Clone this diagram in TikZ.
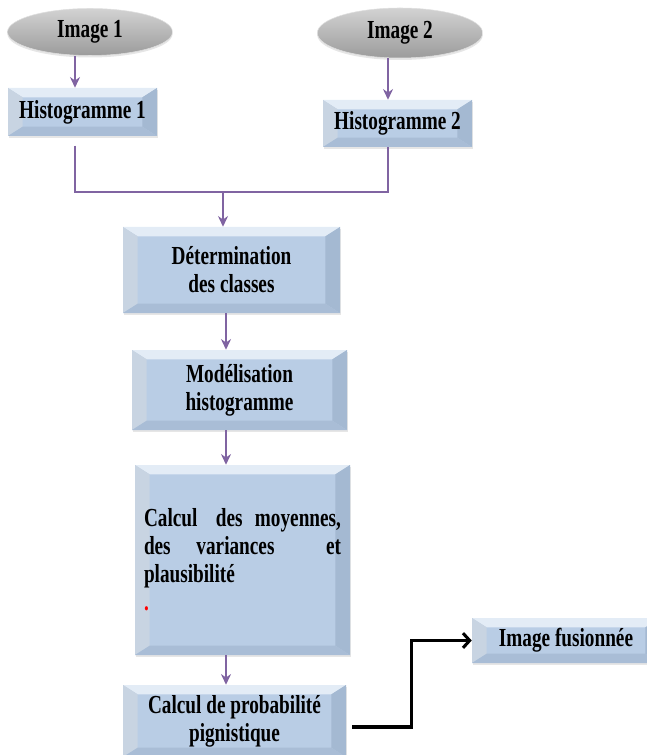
\documentclass[tikz,border=0pt]{standalone}
\usepackage{fontspec}
\setmainfont{Liberation Serif}[FakeStretch=0.74]
\usetikzlibrary{calc}
\usetikzlibrary{shapes.geometric, shadows, arrows.meta}
\definecolor{flowpurple}{HTML}{8064A2}
\definecolor{boxblue}{HTML}{B9CDE5}
\definecolor{boxtop}{HTML}{E3ECF6}
\definecolor{boxleft}{HTML}{C8D4E2}
\definecolor{boxright}{HTML}{A4B9D2}
\definecolor{boxbottom}{HTML}{A9BDD6}
% bevel faces of the blue boxes
\newcommand{\bevelfaces}{%
  \fill[boxtop] (path picture bounding box.north west) -- (path picture bounding box.north east)
    -- ([xshift=-11pt,yshift=-7pt]path picture bounding box.north east) -- ([xshift=11pt,yshift=-7pt]path picture bounding box.north west) -- cycle;
  \fill[boxleft] (path picture bounding box.north west) -- ([xshift=11pt,yshift=-7pt]path picture bounding box.north west)
    -- ([xshift=11pt,yshift=7pt]path picture bounding box.south west) -- (path picture bounding box.south west) -- cycle;
  \fill[boxright] (path picture bounding box.north east) -- ([xshift=-11pt,yshift=-7pt]path picture bounding box.north east)
    -- ([xshift=-11pt,yshift=7pt]path picture bounding box.south east) -- (path picture bounding box.south east) -- cycle;
  \fill[boxbottom] (path picture bounding box.south west) -- (path picture bounding box.south east)
    -- ([xshift=-11pt,yshift=7pt]path picture bounding box.south east) -- ([xshift=11pt,yshift=7pt]path picture bounding box.south west) -- cycle;}
\tikzstyle{flow} = [draw=flowpurple, line width=2.1pt, -{Stealth[length=8pt,width=7.5pt]}]
\tikzstyle{link} = [draw=flowpurple, line width=2.1pt]
\tikzstyle{result} = [draw=black, line width=2.3pt, -{Straight Barb[length=5pt,width=11pt]}]
\tikzstyle{source} = [ellipse, inner sep=0pt, top color=gray!35, middle color=gray!62, bottom color=gray!78, draw=gray!25, thin,
  drop shadow={opacity=0.2,shadow xshift=0pt,shadow yshift=-1.5pt}]
\tikzstyle{stepbox} = [rectangle, inner sep=0pt, align=center, fill=boxblue, path picture={\bevelfaces},
  drop shadow={opacity=0.2,shadow xshift=0.4pt,shadow yshift=-1.5pt}]

\begin{document}
\begin{tikzpicture}[font=\bfseries\fontsize{19.5}{21}\selectfont]
	\useasboundingbox (0,0) rectangle (484.5pt,-566.25pt);
	\node[source, minimum width=123.75pt, minimum height=35.25pt](img_1) at (67.5pt,-24pt){Image 1};
	\node[source, minimum width=124pt, minimum height=37.5pt](img_2) at (300pt,-24.75pt){Image 2};
	\node[stepbox, minimum width=111.75pt, minimum height=36pt](hist_1) at (61.875pt,-84pt){Histogramme 1};
	\node[stepbox, minimum width=111.75pt, minimum height=35.25pt](hist_2) at (298.125pt,-92.625pt){Histogramme 2};
	\node[stepbox, minimum width=162.75pt, minimum height=64.5pt](det) at (173.625pt,-202.5pt){Détermination\\des classes};
	\node[stepbox, minimum width=161.25pt, minimum height=60pt](mod) at (179.625pt,-292.5pt){Modélisation\\histogramme};
	\node[stepbox, minimum width=161.25pt, minimum height=142.5pt, text width=147.75pt, align=left](calc) at (181.875pt,-420pt)
		{Calcul\hfill\hfill\hfill des\hfill\hfill moyennes,\\des\hfill variances\hfill\hfill et\\plausibilité\\\textcolor{red}{.}};
	\node[stepbox, minimum width=167.25pt, minimum height=54pt](prob) at (175.875pt,-540.75pt){Calcul de probabilité\\pignistique};
	\node[stepbox, minimum width=141pt, minimum height=33.75pt](fus) at (424.5pt,-480.375pt){Image fusionnée};
	% junction points of the purple lines
	\coordinate (left_drop) at (56.25pt,-144pt);
	\coordinate (right_drop) at (291pt,-144pt);
	\coordinate (merge) at (167.25pt,-144pt);
	\coordinate (spine) at (169.5pt,0pt);
	\draw[flow] (img_1.south -| left_drop) -- (hist_1.north -| left_drop);
	\draw[flow] (img_2.south -| right_drop) -- (hist_2.north -| right_drop);
	\draw[link] ($(hist_1.south -| left_drop)+(0,-7pt)$) -- (left_drop) -- (right_drop) -- (hist_2.south -| right_drop);
	\draw[flow] (merge) -- (det.north -| merge);
	\draw[flow] (det.south -| spine) -- (mod.north -| spine);
	\draw[flow] (mod.south -| spine) -- (calc.north -| spine);
	\draw[flow] (calc.south -| spine) -- (prob.north -| spine);
	\draw[result] ($(prob.east)+(4.5pt,-4.5pt)$) -- ++(44.25pt,0) |- (fus.west);
\end{tikzpicture}
\end{document}
